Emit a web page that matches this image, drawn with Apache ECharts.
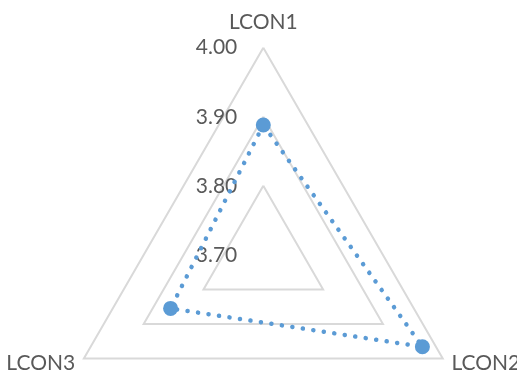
<!DOCTYPE html>
<html><head><meta charset="utf-8">
<script src="https://cdn.jsdelivr.net/npm/echarts@6/dist/echarts.min.js"></script>
<style>html,body{margin:0;padding:0;background:#fff}#c{width:517px;height:370px}</style>
</head><body><div id="c"></div>
<script>
const categories = ['LCON1', 'LCON2', 'LCON3'];
const values = [3.888, 3.966, 3.855];
const axisMin = 3.70, axisMax = 4.00;
const tickLabels = ['3.70', '3.80', '3.90', '4.00'];

// ECharts places radar indicators counter-clockwise; the reference goes clockwise.
const order = [0, 2, 1];

const chart = echarts.init(document.getElementById('c'));
const FONT = 'Lato';
const FS = 21;
chart.setOption({
  animation: false,
  radar: {
    center: [263.3, 254.9],
    radius: 207.2,
    startAngle: 90,
    shape: 'polygon',
    splitNumber: tickLabels.length - 1,
    nameGap: 10,
    axisName: {
      color: '#595959', fontFamily: FONT, fontSize: FS, verticalAlign: 'middle',
      formatter: function (n) { return n === categories[0] ? '{t|' + n + '}' : '{b|' + n + '}'; },
      rich: {
        t: { color: '#595959', fontFamily: FONT, fontSize: FS, padding: [0, 0, 30, 0] },
        b: { color: '#595959', fontFamily: FONT, fontSize: FS }
      }
    },
    axisLine: { show: false },
    axisTick: { show: false },
    splitArea: { show: false },
    splitLine: { lineStyle: { color: '#d9d9d9', width: 2 } },
    axisLabel: { show: false },
    indicator: order.map(function (k, i) {
      const ind = { name: categories[k], min: axisMin, max: axisMax };
      ind.axisLabel = i === 0 ? {
        show: true, color: '#595959', fontFamily: FONT, fontSize: FS, margin: 26,
        formatter: function (v) { return v.toFixed(2); }
      } : { show: false };
      return ind;
    })
  },
  series: [{
    type: 'radar',
    symbol: 'circle',
    symbolSize: 15,
    itemStyle: { color: '#5b9bd5' },
    lineStyle: { color: '#5b9bd5', width: 4.5, type: [0.1, 10.5], cap: 'round' },
    data: [{ value: order.map(function (k) { return values[k]; }) }]
  }]
});
</script></body></html>
